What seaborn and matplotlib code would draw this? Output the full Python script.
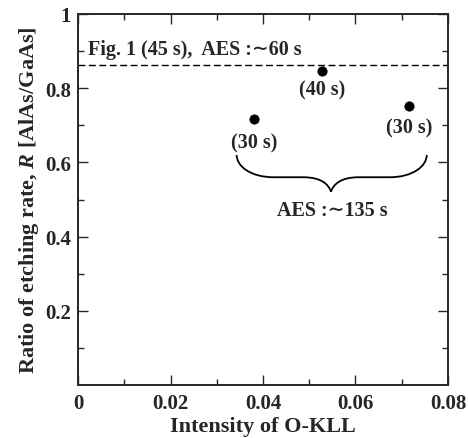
import numpy as np
import pandas as pd
import matplotlib
matplotlib.use("Agg")
import matplotlib.pyplot as plt
import seaborn as sns
from matplotlib.path import Path
from matplotlib.patches import PathPatch

# Data
intensity = [0.0381, 0.0527, 0.0716]
ratio = [0.716, 0.846, 0.752]
times = ["(30 s)", "(40 s)", "(30 s)"]
label_dy = [-0.061, -0.05, -0.057]
ref_ratio = 0.862
xticks = [0, 0.02, 0.04, 0.06, 0.08]
yticks = [0.2, 0.4, 0.6, 0.8, 1.0]
ytick_labels = ["0.2", "0.4", "0.6", "0.8", "1"]
xtick_labels = ["0", "0.02", "0.04", "0.06", "0.08"]

sns.set_style("ticks")
plt.rcParams['font.family'] = ['Liberation Serif', 'DejaVu Serif']
plt.rcParams['font.weight'] = 'bold'
plt.rcParams['mathtext.fontset'] = 'custom'
plt.rcParams['mathtext.it'] = 'Liberation Serif:italic:bold'
plt.rcParams['mathtext.rm'] = 'Liberation Serif:bold'

fig = plt.figure(figsize=(4.68, 4.39), dpi=100)
ax = fig.add_axes([78/468, 1-386/439, 370/468, 371/439])

df = pd.DataFrame({"x": intensity, "y": ratio})
sns.scatterplot(data=df, x="x", y="y", ax=ax, color="black", s=45, edgecolor="black", zorder=3)
ax.axhline(ref_ratio, color="black", ls=(0, (5, 2.5)), lw=1.0)

ax.set_xlim(0, 0.08)
ax.set_ylim(0, 1)
ax.set_xticks(xticks)
ax.set_xticklabels(xtick_labels)
ax.set_yticks(yticks)
ax.set_yticklabels(ytick_labels)
ax.set_xticks(np.arange(0.01, 0.08, 0.02), minor=True)
ax.set_yticks(np.arange(0.1, 1.0, 0.2), minor=True)
ax.tick_params(which='both', direction='in', top=True, right=True, width=1.0)
ax.tick_params(which='major', length=7, labelsize=15)
ax.tick_params(axis='y', which='major', pad=5)
ax.tick_params(axis='x', which='major', pad=6)
ax.tick_params(which='minor', length=4)
for s in ax.spines.values():
    s.set_linewidth(1.4)
ax.set_xlabel("Intensity of O-KLL", fontsize=16, fontweight='bold', labelpad=2)
ax.set_ylabel("Ratio of etching rate, $R$ [AlAs/GaAs]", fontsize=16, fontweight='bold', labelpad=3)

# annotations
ax.text(0.0022, 0.892, "Fig. 1 (45 s),  AES :\u223c60 s", fontsize=14.5, fontweight='bold', va='baseline', ha='left')
for xi, yi, t, dy in zip(intensity, ratio, times, label_dy):
    ax.text(xi, yi + dy, t, fontsize=14.5, fontweight='bold', ha='center', va='center')

# curly brace
x0, x1, ytop, ybot = 0.0343, 0.0754, 0.62, 0.521
xm = 0.0547
ymid = 0.560
verts = [(x0, ytop),
         (x0, ymid + 0.03), (x0 + 0.003, ymid), (x0 + 0.008, ymid),
         (xm - 0.006, ymid),
         (xm - 0.002, ymid), (xm - 0.0005, ymid - 0.02), (xm, ybot),
         (xm + 0.0005, ymid - 0.02), (xm + 0.002, ymid), (xm + 0.006, ymid),
         (x1 - 0.008, ymid),
         (x1 - 0.003, ymid), (x1, ymid + 0.03), (x1, ytop)]
codes = [Path.MOVETO,
         Path.CURVE4, Path.CURVE4, Path.CURVE4,
         Path.LINETO,
         Path.CURVE4, Path.CURVE4, Path.CURVE4,
         Path.CURVE4, Path.CURVE4, Path.CURVE4,
         Path.LINETO,
         Path.CURVE4, Path.CURVE4, Path.CURVE4]
ax.add_patch(PathPatch(Path(verts, codes), fill=False, lw=1.3, color='black'))
ax.text(0.055, 0.471, "AES :\u223c135 s", fontsize=14.5, fontweight='bold', ha='center', va='center')

fig.savefig("out.png", dpi=100)
